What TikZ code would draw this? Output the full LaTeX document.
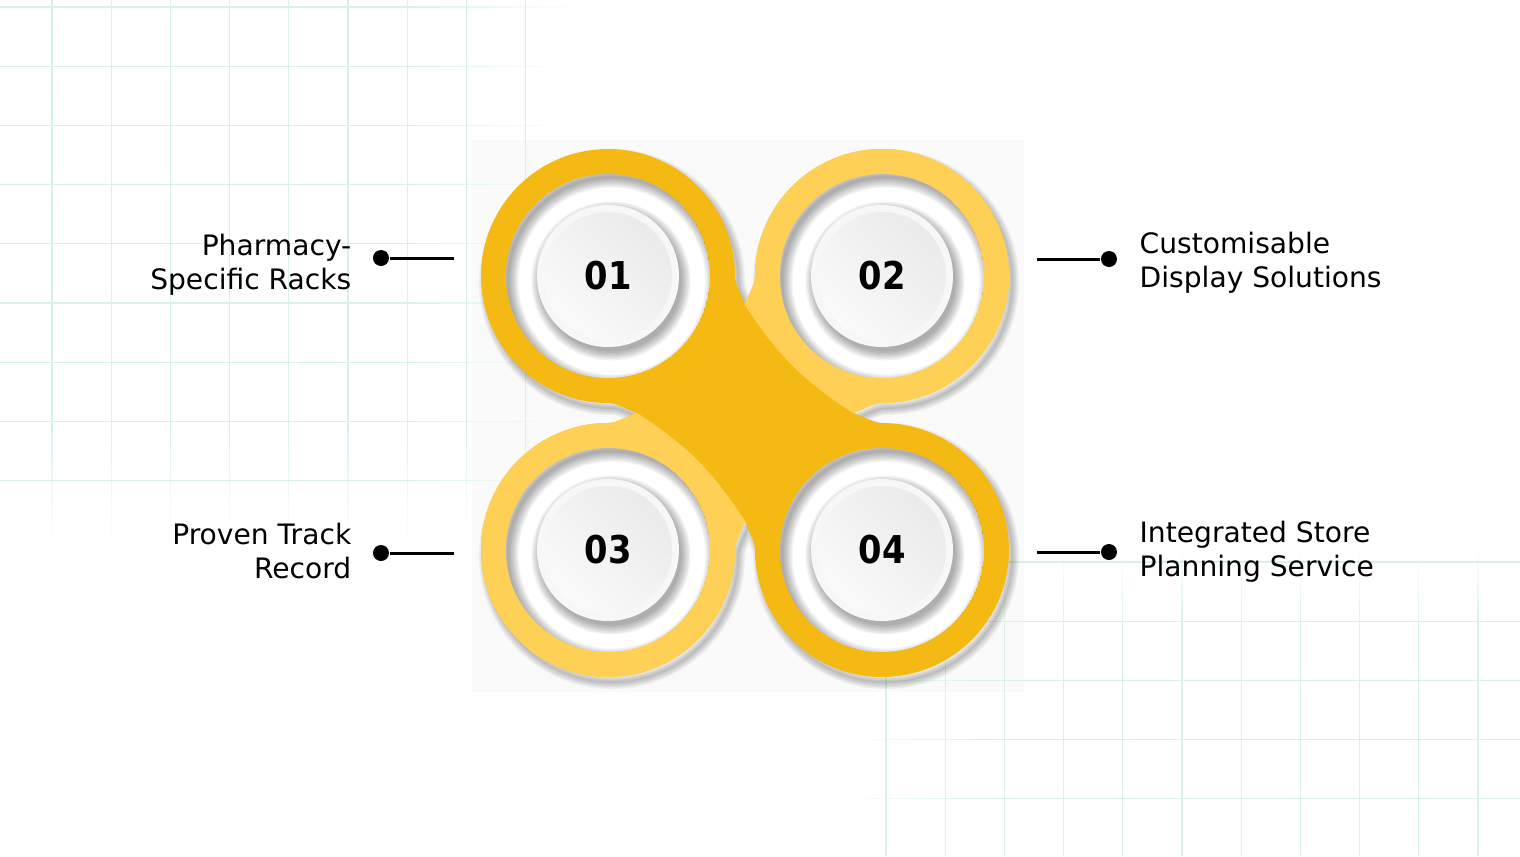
\documentclass[tikz,border=0pt]{standalone}
\usepackage{fontspec}
\setmainfont{DejaVu Sans}
\newfontfamily\numfont{DejaVu Sans}[FakeStretch=0.88]
\usepackage{tikz}
\usetikzlibrary{calc}

\definecolor{darkgold}{RGB}{245,185,20}
\definecolor{lightgold}{RGB}{254,209,86}
\definecolor{gridmint}{RGB}{216,243,230}
\definecolor{paper}{RGB}{250,250,250}

\newcommand{\labelsize}{\fontsize{8}{9.7}\selectfont}
\newcommand{\numsize}{\fontsize{10.9}{13}\selectfont}

\newcommand{\spinnerpath}{(0,108) .. controls (4,120) and (10,128) .. (10,137)
  arc[start angle=180, end angle=-90, radius=127]
  .. controls (128,10) and (120,4) .. (108,0)
  .. controls (120,-4) and (128,-10) .. (137,-10)
  arc[start angle=90, end angle=-180, radius=127]
  .. controls (10,-128) and (4,-120) .. (0,-108)
  .. controls (-4,-120) and (-10,-128) .. (-10,-137)
  arc[start angle=0, end angle=-270, radius=127]
  .. controls (-128,-10) and (-120,-4) .. (-108,0)
  .. controls (-120,4) and (-128,10) .. (-137,10)
  arc[start angle=-90, end angle=-360, radius=127]
  .. controls (-10,128) and (-4,120) .. (0,108) -- cycle}
\newcommand{\petalB}{(0,108) .. controls (4,120) and (10,128) .. (10,137)
  arc[start angle=180, end angle=-90, radius=127]
  .. controls (128,10) and (120,4) .. (108,0)
  to[bend left=12] (0,108) -- cycle}
\newcommand{\petalC}{(0,-108) .. controls (-4,-120) and (-10,-128) .. (-10,-137)
  arc[start angle=0, end angle=-270, radius=127]
  .. controls (-128,-10) and (-120,-4) .. (-108,0)
  to[bend left=12] (0,-108) -- cycle}

\newcommand{\ringhole}[1]{%
  \begin{scope}
    \clip (#1) circle (102);
    \fill[white] (#1) circle (102);
    \foreach \w in {3,6,...,21}
      \draw[black, opacity=0.05, line width=\w*0.01cm] ($(#1)+(4,-5)$) circle (104);
  \end{scope}}

\newcommand{\knob}[3]{%
  \foreach \r in {1,...,7}
    \fill[black, opacity=0.05] ($(#1)+(3,-5)$) circle (69+\r*1.5);
  \fill[black!3] (#1) circle (71);
  \shade[left color=black!8, right color=black!2, shading angle=-45] (#1) circle (64);
  \node[numtxt] (#2) at (#1) {#3};}

\tikzset{
  lbl/.style={font=\labelsize, inner sep=0pt, text=black},
  numtxt/.style={font=\numfont\bfseries\numsize, text=black, inner sep=0pt},
  dot/.style={circle, fill=black, minimum size=0.16cm, inner sep=0pt},
  conn/.style={black, line width=0.03cm},
}

\begin{document}
\begin{tikzpicture}[x=0.01cm, y=0.01cm]
  \useasboundingbox (-745,-443) rectangle (775,413);
  \fill[white] (-745,-443) rectangle (775,413);
  \fill[paper] (-273,273) rectangle (279,-279);

  \foreach \k in {0,...,8}{
    \pgfmathsetmacro\gx{-693+59.2*\k}
    \pgfmathsetmacro\gy{406-59.2*\k}
    \fill[gridmint] (\gx-0.65,413) rectangle (\gx+0.65,-20);
    \fill[gridmint] (-745,\gy-0.65) rectangle (-330,\gy+0.65);
    \foreach \s in {0,...,5}{
      \pgfmathsetmacro\op{0.85-0.15*\s}
      \fill[gridmint, opacity=\op] (\gx-0.65,-20-17*\s) rectangle (\gx+0.65,-37-17*\s);
      \fill[gridmint, opacity=\op] (-330+25*\s,\gy-0.65) rectangle (-305+25*\s,\gy+0.65);
    }
  }
  \foreach \k in {0,...,10}{
    \pgfmathsetmacro\gx{141+59.2*\k}
    \fill[gridmint] (\gx-0.65,-443) rectangle (\gx+0.65,-212);
    \foreach \s in {0,...,5}{
      \pgfmathsetmacro\op{0.85-0.15*\s}
      \fill[gridmint, opacity=\op] (\gx-0.65,-212+12*\s) rectangle (\gx+0.65,-200+12*\s);
    }
  }
  \foreach \k in {0,...,4}{
    \pgfmathsetmacro\gy{-149-59.2*\k}
    \fill[gridmint] (230,\gy-0.65) rectangle (775,\gy+0.65);
    \foreach \s in {0,...,5}{
      \pgfmathsetmacro\op{0.85-0.15*\s}
      \fill[gridmint, opacity=\op] (230-21*\s,\gy-0.65) rectangle (209-21*\s,\gy+0.65);
    }
  }

  \coordinate (c1) at (-137,137);
  \coordinate (c2) at (137,137);
  \coordinate (c3) at (-137,-137);
  \coordinate (c4) at (137,-137);

  \foreach \w in {12,9,6,3}
    \draw[black, opacity=0.05, line width=\w*0.01cm, line join=round, shift={(4,-6)}] \spinnerpath;
  \fill[black, opacity=0.06, shift={(4,-6)}] \spinnerpath;
  \fill[darkgold] \spinnerpath;
  \fill[lightgold] \petalB;
  \fill[lightgold] \petalC;

  \ringhole{c1}
  \ringhole{c2}
  \ringhole{c3}
  \ringhole{c4}
  \knob{c1}{n1}{01}
  \knob{c2}{n2}{02}
  \knob{c3}{n3}{03}
  \knob{c4}{n4}{04}

  \node[dot] (d1) at (-364,155) {};
  \node[dot] (d2) at (364,154) {};
  \node[dot] (d3) at (-364,-140) {};
  \node[dot] (d4) at (364,-139) {};
  \coordinate (e1) at (-291,155);
  \coordinate (e2) at (292,154);
  \coordinate (e3) at (-291,-140);
  \coordinate (e4) at (292,-139);
  \draw[conn] (d1) -- (e1);
  \draw[conn] (e2) -- (d2);
  \draw[conn] (d3) -- (e3);
  \draw[conn] (e4) -- (d4);

  \node[lbl, anchor=east, align=right] (t1) at (-393,148) {Pharmacy-\\Specific Racks};
  \node[lbl, anchor=west, align=left] (t2) at (394,150.5) {Customisable\\Display Solutions};
  \node[lbl, anchor=east, align=right] (t3) at (-393,-138.3) {Proven Track\\Record};
  \node[lbl, anchor=west, align=left] (t4) at (394,-138.6) {Integrated Store\\Planning Service};
\end{tikzpicture}
\end{document}
